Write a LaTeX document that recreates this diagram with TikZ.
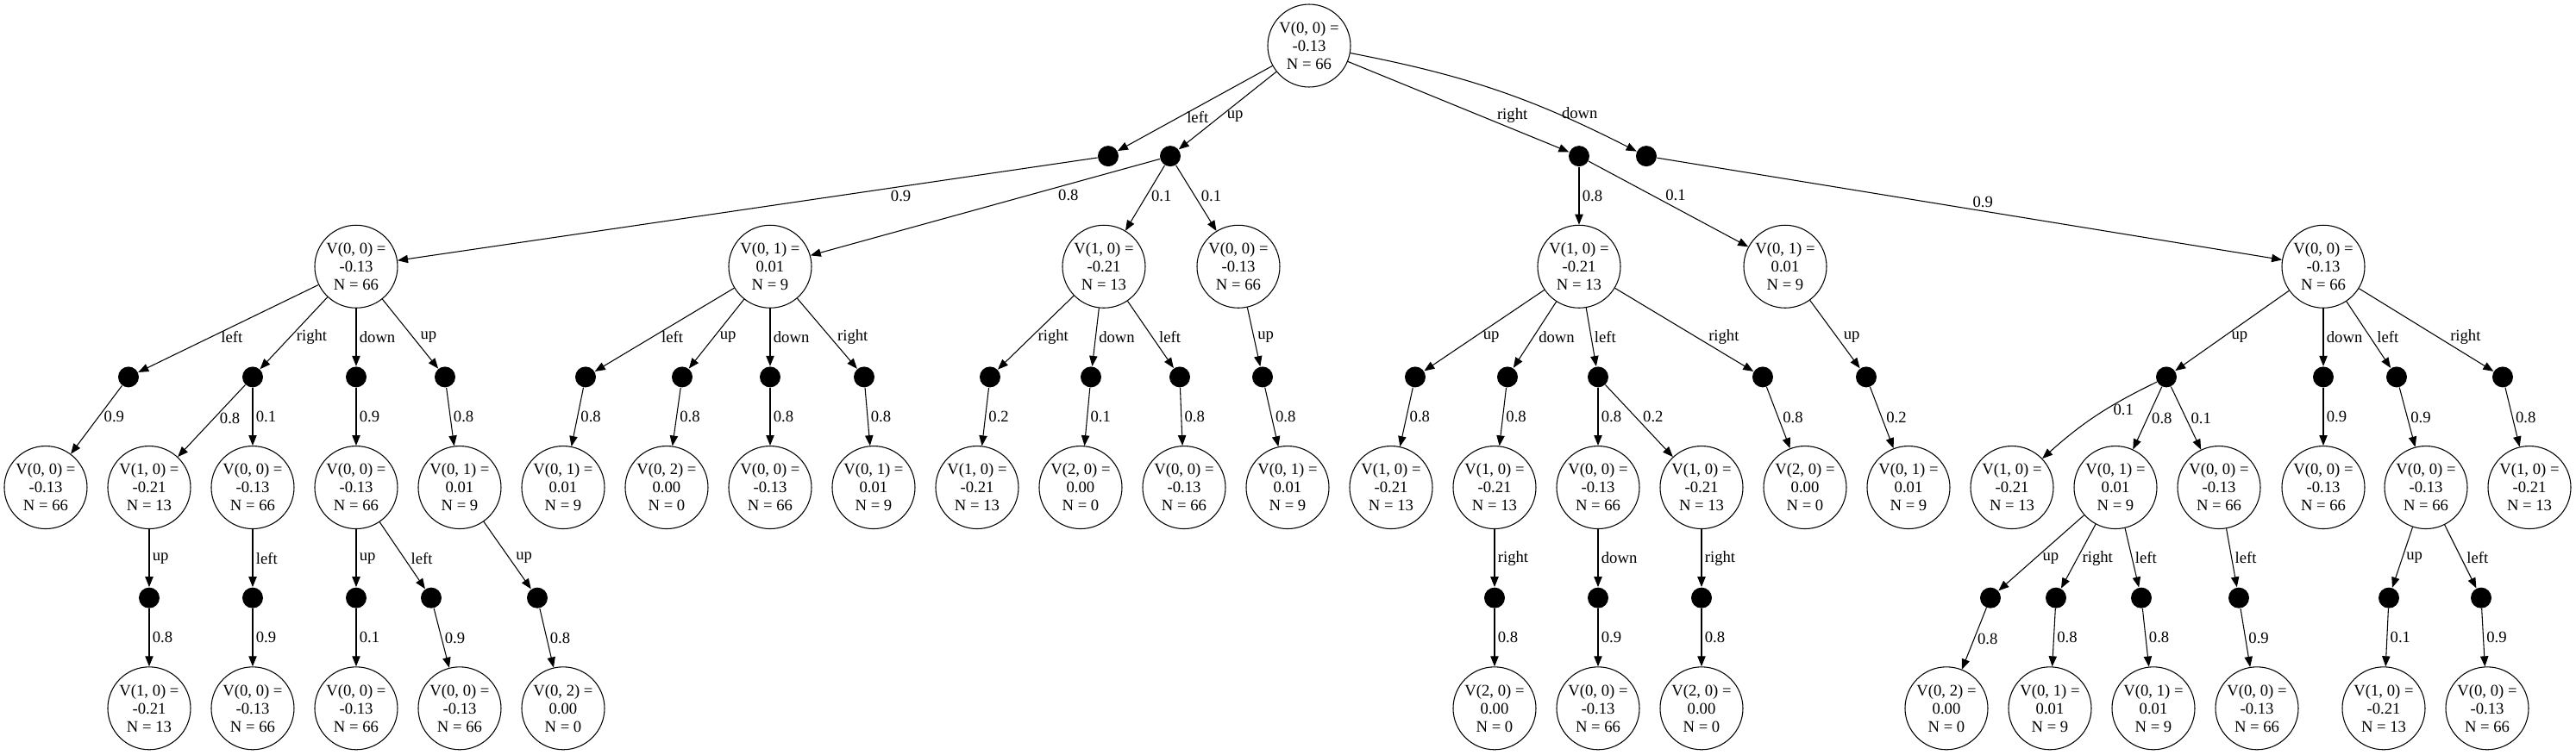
\documentclass[tikz,border=0pt]{standalone}
\usepackage{fontspec}
\setmainfont{Liberation Serif}
\usetikzlibrary{positioning}
\usetikzlibrary{arrows, arrows.meta}

\begin{document}
\begin{tikzpicture}[node distance=96.1pt, on grid, line width=0.8pt,
  >={Triangle[length=9pt,width=7pt]},
  font=\fontsize{14}{15.75}\selectfont,
  vstate/.style={circle, draw, minimum size=72pt, inner sep=0pt, align=center},
  chance/.style={circle, fill, minimum size=18pt, inner sep=0pt}]
\useasboundingbox (-1138.5pt,39.75pt) rectangle (1101.75pt,-616.5pt);

% root and its actions
\node[vstate]                            (R)  {V(0, 0) =\\-0.13\\N = 66};
\node[chance, below=of R, xshift=-174.75pt] (Rl) {};
\node[chance, below=of R, xshift=-120.75pt] (Ru) {};
\node[chance, below=of R, xshift=234.75pt]  (Rr) {};
\node[chance, below=of R, xshift=293.25pt]  (Rd) {};

% second level states
\node[vstate, below=of Rl, xshift=-654pt]   (A) {V(0, 0) =\\-0.13\\N = 66};
\node[vstate, below=of Ru, xshift=-348pt]   (B) {V(0, 1) =\\0.01\\N = 9};
\node[vstate, below=of Ru, xshift=-57.75pt] (C) {V(1, 0) =\\-0.21\\N = 13};
\node[vstate, below=of Ru, xshift=59.25pt]  (D) {V(0, 0) =\\-0.13\\N = 66};
\node[vstate, below=of Rr]                  (E) {V(1, 0) =\\-0.21\\N = 13};
\node[vstate, below=of Rr, xshift=179.25pt] (F) {V(0, 1) =\\0.01\\N = 9};
\node[vstate, below=of Rd, xshift=588.75pt] (G) {V(0, 0) =\\-0.13\\N = 66};

% actions of the second level
\node[chance, below=of A, xshift=-198pt]    (Al) {};
\node[chance, below=of A, xshift=-90pt]     (Ar) {};
\node[chance, below=of A]                   (Ad) {};
\node[chance, below=of A, xshift=77.25pt]   (Au) {};
\node[chance, below=of B, xshift=-160.5pt]  (Bl) {};
\node[chance, below=of B, xshift=-76.5pt]   (Bu) {};
\node[chance, below=of B]                   (Bd) {};
\node[chance, below=of B, xshift=81.75pt]   (Br) {};
\node[chance, below=of C, xshift=-99pt]     (Cr) {};
\node[chance, below=of C, xshift=-11.25pt]  (Cd) {};
\node[chance, below=of C, xshift=66pt]      (Cl) {};
\node[chance, below=of D, xshift=21pt]      (Du) {};
\node[chance, below=of E, xshift=-142.5pt]  (Eu) {};
\node[chance, below=of E, xshift=-62.25pt]  (Ed) {};
\node[chance, below=of E, xshift=16.5pt]    (El) {};
\node[chance, below=of E, xshift=159.75pt]  (Er) {};
\node[chance, below=of F, xshift=70.5pt]    (Fu) {};
\node[chance, below=of G, xshift=-136.5pt]  (Gu) {};
\node[chance, below=of G]                   (Gd) {};
\node[chance, below=of G, xshift=63.75pt]   (Gl) {};
\node[chance, below=of G, xshift=156pt]     (Gr) {};

% third level states
\node[vstate, below=of Al, xshift=-72pt]     (a1) {V(0, 0) =\\-0.13\\N = 66};
\node[vstate, below=of Ar, xshift=-90pt]     (a2) {V(1, 0) =\\-0.21\\N = 13};
\node[vstate, below=of Ar]                   (a3) {V(0, 0) =\\-0.13\\N = 66};
\node[vstate, below=of Ad]                   (a4) {V(0, 0) =\\-0.13\\N = 66};
\node[vstate, below=of Au, xshift=12.75pt]   (a5) {V(0, 1) =\\0.01\\N = 9};
\node[vstate, below=of Bl, xshift=-19.5pt]   (b1) {V(0, 1) =\\0.01\\N = 9};
\node[vstate, below=of Bu, xshift=-13.5pt]   (b2) {V(0, 2) =\\0.00\\N = 0};
\node[vstate, below=of Bd]                   (b3) {V(0, 0) =\\-0.13\\N = 66};
\node[vstate, below=of Br, xshift=8.25pt]    (b4) {V(0, 1) =\\0.01\\N = 9};
\node[vstate, below=of Cr, xshift=-11.25pt]  (c1) {V(1, 0) =\\-0.21\\N = 13};
\node[vstate, below=of Cd, xshift=-9pt]      (c2) {V(2, 0) =\\0.00\\N = 0};
\node[vstate, below=of Cl, xshift=3.75pt]    (c3) {V(0, 0) =\\-0.13\\N = 66};
\node[vstate, below=of Du, xshift=21.75pt]   (d1) {V(0, 1) =\\0.01\\N = 9};
\node[vstate, below=of Eu, xshift=-21pt]     (e1) {V(1, 0) =\\-0.21\\N = 13};
\node[vstate, below=of Ed, xshift=-11.25pt]  (e2) {V(1, 0) =\\-0.21\\N = 13};
\node[vstate, below=of El]                   (e3) {V(0, 0) =\\-0.13\\N = 66};
\node[vstate, below=of El, xshift=90pt]      (e4) {V(1, 0) =\\-0.21\\N = 13};
\node[vstate, below=of Er, xshift=36.75pt]   (e5) {V(2, 0) =\\0.00\\N = 0};
\node[vstate, below=of Fu, xshift=36.75pt]   (f1) {V(0, 1) =\\0.01\\N = 9};
\node[vstate, below=of Gu, xshift=-134.25pt] (g1) {V(1, 0) =\\-0.21\\N = 13};
\node[vstate, below=of Gu, xshift=-44.25pt]  (g2) {V(0, 1) =\\0.01\\N = 9};
\node[vstate, below=of Gu, xshift=45.75pt]   (g3) {V(0, 0) =\\-0.13\\N = 66};
\node[vstate, below=of Gd]                   (g4) {V(0, 0) =\\-0.13\\N = 66};
\node[vstate, below=of Gl, xshift=25.5pt]    (g5) {V(0, 0) =\\-0.13\\N = 66};
\node[vstate, below=of Gr, xshift=23.25pt]   (g6) {V(1, 0) =\\-0.21\\N = 13};

% actions of the third level
\node[chance, below=of a2]                   (a2u) {};
\node[chance, below=of a3]                   (a3l) {};
\node[chance, below=of a4]                   (a4u) {};
\node[chance, below=of a4, xshift=65.25pt]   (a4l) {};
\node[chance, below=of a5, xshift=67.5pt]    (a5u) {};
\node[chance, below=of e2]                   (e2r) {};
\node[chance, below=of e3]                   (e3d) {};
\node[chance, below=of e4]                   (e4r) {};
\node[chance, below=of g2, xshift=-108.75pt] (g2u) {};
\node[chance, below=of g2, xshift=-51.75pt]  (g2r) {};
\node[chance, below=of g2, xshift=22.5pt]    (g2l) {};
\node[chance, below=of g3, xshift=17.25pt]   (g3l) {};
\node[chance, below=of g5, xshift=-32.25pt]  (g5u) {};
\node[chance, below=of g5, xshift=48pt]      (g5l) {};

% fourth level states
\node[vstate, below=of a2u]                  (a2uv) {V(1, 0) =\\-0.21\\N = 13};
\node[vstate, below=of a3l]                  (a3lv) {V(0, 0) =\\-0.13\\N = 66};
\node[vstate, below=of a4u]                  (a4uv) {V(0, 0) =\\-0.13\\N = 66};
\node[vstate, below=of a4l, xshift=24.75pt]  (a4lv) {V(0, 0) =\\-0.13\\N = 66};
\node[vstate, below=of a5u, xshift=22.5pt]   (a5uv) {V(0, 2) =\\0.00\\N = 0};
\node[vstate, below=of e2r]                  (e2rv) {V(2, 0) =\\0.00\\N = 0};
\node[vstate, below=of e3d]                  (e3dv) {V(0, 0) =\\-0.13\\N = 66};
\node[vstate, below=of e4r]                  (e4rv) {V(2, 0) =\\0.00\\N = 0};
\node[vstate, below=of g2u, xshift=-38.25pt] (g2uv) {V(0, 2) =\\0.00\\N = 0};
\node[vstate, below=of g2r, xshift=-5.25pt]  (g2rv) {V(0, 1) =\\0.01\\N = 9};
\node[vstate, below=of g2l, xshift=10.5pt]   (g2lv) {V(0, 1) =\\0.01\\N = 9};
\node[vstate, below=of g3l, xshift=15.75pt]  (g3lv) {V(0, 0) =\\-0.13\\N = 66};
\node[vstate, below=of g5u, xshift=-4.5pt]   (g5uv) {V(1, 0) =\\-0.21\\N = 13};
\node[vstate, below=of g5l, xshift=5.25pt]   (g5lv) {V(0, 0) =\\-0.13\\N = 66};

% actions and outcomes, labels sit right of the edge
\begin{scope}[every node/.style={anchor=west, xshift=1.5pt, inner sep=1pt}]
\draw[->] (R) edge node[pos=0.6, xshift=3.5pt]{left} (Rl)
              edge node[pos=0.58, xshift=3.5pt]{up} (Ru)
              edge node[pos=0.6, xshift=11.5pt]{right} (Rr)
              edge[bend left=8] node[pos=0.72, xshift=2.5pt]{down} (Rd);
\draw[->] (Rl) edge node[auto, pos=0.3]{0.9} (A);
\draw[->] (Ru) edge node[auto, pos=0.3]{0.8} (B)
               edge node[pos=0.47, xshift=1.5pt]{0.1} (C)
               edge node[pos=0.47, xshift=2.5pt]{0.1} (D);
\draw[->] (Rr) edge node{0.8} (E) edge node[pos=0.4, xshift=8.5pt]{0.1} (F);
\draw[->] (Rd) edge node[auto]{0.9} (G);

\draw[->] (A) edge node[pos=0.6, xshift=6.5pt]{left} (Al)
              edge node[pos=0.56, xshift=3pt]{right} (Ar)
              edge node{down} (Ad)
              edge node[pos=0.55, xshift=3.5pt]{up} (Au);
\draw[->] (B) edge node[pos=0.59, xshift=5.5pt]{left} (Bl)
              edge node[pos=0.55, xshift=2.5pt]{up} (Bu)
              edge node{down} (Bd)
              edge node[pos=0.55, xshift=3.5pt]{right} (Br);
\draw[->] (C) edge node[pos=0.56, xshift=3pt]{right} (Cr)
              edge node{down} (Cd)
              edge node[pos=0.54, xshift=3pt]{left} (Cl);
\draw[->] (D) edge node[xshift=0.5pt]{up} (Du);
\draw[->] (E) edge node[pos=0.58, xshift=4.5pt]{up} (Eu)
              edge node[pos=0.54, xshift=2pt]{down} (Ed)
              edge node{left} (El)
              edge node[pos=0.59, xshift=7.5pt]{right} (Er);
\draw[->] (F) edge node[pos=0.54, xshift=3pt]{up} (Fu);
\draw[->] (G) edge node[pos=0.58, xshift=4.5pt]{up} (Gu)
              edge node{down} (Gd)
              edge node[pos=0.54, xshift=3pt]{left} (Gl)
              edge node[pos=0.59, xshift=7.5pt]{right} (Gr);

\draw[->] (Al) edge node[pos=0.46, xshift=2pt]{0.9} (a1);
\draw[->] (Ar) edge node[pos=0.46, xshift=2pt]{0.8} (a2) edge node{0.1} (a3);
\draw[->] (Ad) edge node{0.9} (a4);
\draw[->] (Au) edge node{0.8} (a5);
\draw[->] (Bl) edge node{0.8} (b1);
\draw[->] (Bu) edge node{0.8} (b2);
\draw[->] (Bd) edge node{0.8} (b3);
\draw[->] (Br) edge node{0.8} (b4);
\draw[->] (Cr) edge node{0.2} (c1);
\draw[->] (Cd) edge node{0.1} (c2);
\draw[->] (Cl) edge node{0.8} (c3);
\draw[->] (Du) edge node[xshift=0.5pt]{0.8} (d1);
\draw[->] (Eu) edge node{0.8} (e1);
\draw[->] (Ed) edge node{0.8} (e2);
\draw[->] (El) edge node{0.8} (e3) edge node[pos=0.44, xshift=4pt]{0.2} (e4);
\draw[->] (Er) edge node[xshift=1pt]{0.8} (e5);
\draw[->] (Fu) edge node[xshift=1pt]{0.2} (f1);
\draw[->] (Gu) edge[bend right=8] node[pos=0.42, xshift=4.5pt]{0.1} (g1)
               edge node[xshift=1pt]{0.8} (g2)
               edge node[xshift=1.5pt]{0.1} (g3);
\draw[->] (Gd) edge node{0.9} (g4);
\draw[->] (Gl) edge node{0.9} (g5);
\draw[->] (Gr) edge node{0.8} (g6);

\draw[->] (a2) edge node{up} (a2u);
\draw[->] (a3) edge node{left} (a3l);
\draw[->] (a4) edge node{up} (a4u) edge node[pos=0.54, xshift=3pt]{left} (a4l);
\draw[->] (a5) edge node[pos=0.54, xshift=3pt]{up} (a5u);
\draw[->] (e2) edge node{right} (e2r);
\draw[->] (e3) edge node{down} (e3d);
\draw[->] (e4) edge node{right} (e4r);
\draw[->] (g2) edge node[pos=0.57, xshift=3.5pt]{up} (g2u)
               edge node[pos=0.53, xshift=1.5pt]{right} (g2r)
               edge node{left} (g2l);
\draw[->] (g3) edge node{left} (g3l);
\draw[->] (g5) edge node[xshift=0.5pt]{up} (g5u)
               edge node[pos=0.52, xshift=2pt]{left} (g5l);

\draw[->] (a2u) edge node{0.8} (a2uv);
\draw[->] (a3l) edge node{0.9} (a3lv);
\draw[->] (a4u) edge node{0.1} (a4uv);
\draw[->] (a4l) edge node{0.9} (a4lv);
\draw[->] (a5u) edge node{0.8} (a5uv);
\draw[->] (e2r) edge node{0.8} (e2rv);
\draw[->] (e3d) edge node{0.9} (e3dv);
\draw[->] (e4r) edge node{0.8} (e4rv);
\draw[->] (g2u) edge node{0.8} (g2uv);
\draw[->] (g2r) edge node{0.8} (g2rv);
\draw[->] (g2l) edge node{0.8} (g2lv);
\draw[->] (g3l) edge node{0.9} (g3lv);
\draw[->] (g5u) edge node{0.1} (g5uv);
\draw[->] (g5l) edge node{0.9} (g5lv);
\end{scope}
\end{tikzpicture}
\end{document}
